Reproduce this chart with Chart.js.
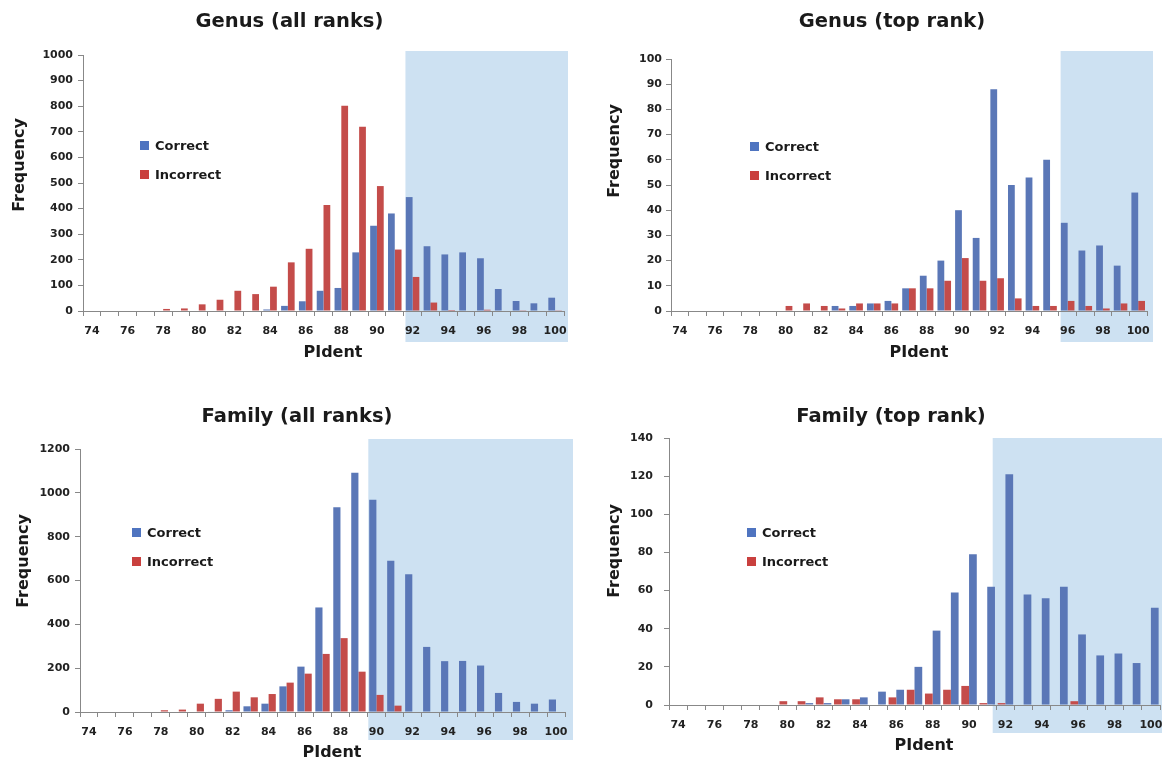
<!DOCTYPE html>
<html lang="en">
<head>
  <meta charset="UTF-8" />
  <title>PIdent histograms</title>
  <script src="https://cdn.jsdelivr.net/npm/chart.js"></script>
  <style>
    body {
      margin: 0;
      background: #fff;
      font-family: 'DejaVu Sans', sans-serif;
      color: #1a1a1a;
    }

    .page {
      position: relative;
      width: 1162px;
      height: 765px;
      overflow: hidden;
    }

    canvas {
      position: absolute;
    }

    .title, .axis-title {
      position: absolute;
      font-weight: bold;
      line-height: 1;
      white-space: nowrap;
      transform: translate(-50%, -50%);
    }

    .title { font-size: 19.5px; }
    .axis-title { font-size: 16px; }
    .axis-title.vertical { transform: translate(-50%, -50%) rotate(-90deg); }

    .legend {
      position: absolute;
      font-weight: bold;
      font-size: 13px;
      line-height: 1;
    }

    .legend .row {
      position: relative;
      height: 28.5px;
      white-space: nowrap;
    }

    .legend .box {
      position: absolute;
      left: 0;
      top: 0;
      width: 9px;
      height: 9px;
    }

    .legend .row span {
      position: absolute;
      left: 15px;
      top: -2px;
    }
  </style>
</head>
<body>
  <div class="page">
    <canvas id="genusAll" width="581" height="382" style="left:0px; top:0px;"></canvas>
    <canvas id="genusTop" width="581" height="382" style="left:581px; top:0px;"></canvas>
    <canvas id="familyAll" width="581" height="383" style="left:0px; top:382px;"></canvas>
    <canvas id="familyTop" width="581" height="383" style="left:581px; top:382px;"></canvas>

    <div class="title" style="left:289.5px; top:21px;">Genus (all ranks)</div>
    <div class="title" style="left:892px; top:21px;">Genus (top rank)</div>
    <div class="title" style="left:297px; top:416px;">Family (all ranks)</div>
    <div class="title" style="left:891px; top:416px;">Family (top rank)</div>

    <div class="axis-title vertical" style="left:19px; top:165px;">Frequency</div>
    <div class="axis-title vertical" style="left:614px; top:151px;">Frequency</div>
    <div class="axis-title vertical" style="left:22.5px; top:561px;">Frequency</div>
    <div class="axis-title vertical" style="left:614px; top:551px;">Frequency</div>

    <div class="axis-title" style="left:333px; top:352px;">PIdent</div>
    <div class="axis-title" style="left:919px; top:352px;">PIdent</div>
    <div class="axis-title" style="left:332px; top:752px;">PIdent</div>
    <div class="axis-title" style="left:924px; top:745px;">PIdent</div>

    <div class="legend" style="left:140px; top:141px;">
      <div class="row"><div class="box" style="background:#4f74c0;"></div><span>Correct</span></div>
      <div class="row"><div class="box" style="background:#c9403e;"></div><span>Incorrect</span></div>
    </div>
    <div class="legend" style="left:750px; top:142px;">
      <div class="row"><div class="box" style="background:#4f74c0;"></div><span>Correct</span></div>
      <div class="row"><div class="box" style="background:#c9403e;"></div><span>Incorrect</span></div>
    </div>
    <div class="legend" style="left:132px; top:528px;">
      <div class="row"><div class="box" style="background:#4f74c0;"></div><span>Correct</span></div>
      <div class="row"><div class="box" style="background:#c9403e;"></div><span>Incorrect</span></div>
    </div>
    <div class="legend" style="left:747px; top:528px;">
      <div class="row"><div class="box" style="background:#4f74c0;"></div><span>Correct</span></div>
      <div class="row"><div class="box" style="background:#c9403e;"></div><span>Incorrect</span></div>
    </div>
  </div>

  <script>
    // PIdent bins (x axis)
    const pident = [74, 75, 76, 77, 78, 79, 80, 81, 82, 83, 84, 85, 86, 87, 88, 89, 90, 91, 92, 93, 94, 95, 96, 97, 98, 99, 100];

    // frequencies, one value per bin above
    const genusAllCorrect   = [0, 0, 0, 0, 0, 0, 0, 0, 0, 0, 6, 20, 38, 79, 90, 229, 333, 381, 445, 253, 221, 229, 206, 86, 39, 30, 52];
    const genusAllIncorrect = [0, 0, 0, 0, 8, 10, 26, 44, 79, 66, 95, 190, 243, 414, 802, 720, 488, 240, 133, 33, 4, 2, 5, 0, 3, 2, 1];

    const genusTopCorrect   = [0, 0, 0, 0, 0, 0, 0, 0, 0, 2, 2, 3, 4, 9, 14, 20, 40, 29, 88, 50, 53, 60, 35, 24, 26, 18, 47];
    const genusTopIncorrect = [0, 0, 0, 0, 0, 0, 2, 3, 2, 1, 3, 3, 3, 9, 9, 12, 21, 12, 13, 5, 2, 2, 4, 2, 1, 3, 4];

    const familyAllCorrect   = [0, 0, 0, 0, 0, 0, 0, 2, 8, 26, 38, 117, 207, 477, 934, 1092, 968, 690, 628, 297, 232, 233, 212, 87, 46, 38, 57];
    const familyAllIncorrect = [0, 0, 0, 0, 8, 11, 38, 60, 93, 67, 82, 134, 175, 265, 337, 184, 78, 29, 0, 0, 0, 0, 0, 0, 0, 0, 0];

    const familyTopCorrect   = [0, 0, 0, 0, 0, 0, 0, 1, 1, 3, 4, 7, 8, 20, 39, 59, 79, 62, 121, 58, 56, 62, 37, 26, 27, 22, 51];
    const familyTopIncorrect = [0, 0, 0, 0, 0, 0, 2, 2, 4, 3, 3, 0, 4, 8, 6, 8, 10, 1, 1, 0, 0, 0, 2, 0, 0, 0, 0];

    // y axis tick ranges
    const yMaxes = [1000, 100, 1200, 140];
    const ySteps = [100, 10, 200, 20];

    // start of the shaded region, in PIdent units
    const bandStarts = [91.6, 95.6, 89.55, 91.3];

    const blue = '#5a77b7';
    const red = '#c44c4a';
    const axisGray = '#888888';
    const tickFont = { family: 'DejaVu Sans', size: 11, weight: 'bold' };

    const shadePlugin = {
      id: 'shade',
      beforeDraw(chart, args, opts) {
        const { ctx, chartArea } = chart;
        const left = chart.scales.x.getPixelForValue(opts.from - pident[0]);
        ctx.save();
        ctx.fillStyle = '#cde1f2';
        ctx.fillRect(left, chartArea.top - opts.above,
          chartArea.right + opts.right - left,
          chartArea.bottom + opts.below - (chartArea.top - opts.above));
        ctx.restore();
      }
    };

    function makeChart(id, cfg) {
      new Chart(document.getElementById(id), {
        type: 'bar',
        data: {
          labels: pident.map(String),
          datasets: cfg.series
        },
        options: {
          responsive: false,
          animation: false,
          devicePixelRatio: 1,
          layout: { padding: { top: cfg.top, right: cfg.right, left: 0, bottom: 0 } },
          datasets: { bar: { categoryPercentage: cfg.catPct, barPercentage: 1 } },
          plugins: {
            legend: { display: false },
            tooltip: { enabled: false },
            title: { display: false },
            shade: { from: cfg.band, above: cfg.above, below: cfg.below, right: cfg.bandRight }
          },
          scales: {
            x: {
              grid: { drawOnChartArea: false, drawTicks: true, tickLength: 5, color: axisGray, offset: true },
              border: { color: axisGray, width: 1 },
              ticks: {
                autoSkip: false,
                maxRotation: 0,
                padding: 9,
                color: '#222',
                font: tickFont,
                callback: (v, i) => (pident[i] % 2 === 0 ? String(pident[i]) : '')
              },
              afterFit(scale) {
                scale.height = cfg.xHeight;
                scale.paddingLeft = 0;
                scale.paddingRight = 0;
              }
            },
            y: {
              min: 0,
              max: cfg.yMax,
              grid: { drawOnChartArea: false, drawTicks: true, tickLength: 5, color: axisGray },
              border: { color: axisGray, width: 1 },
              ticks: {
                stepSize: cfg.yStep,
                padding: cfg.yPad,
                color: '#222',
                font: tickFont,
                callback: (v) => String(v)
              },
              afterFit(scale) {
                scale.width = cfg.yWidth;
                scale.paddingTop = 0;
                scale.paddingBottom = 0;
              }
            }
          }
        },
        plugins: [shadePlugin]
      });
    }

    const correct = (data) => ({ label: 'Correct', data: data, backgroundColor: blue });
    const incorrect = (data) => ({ label: 'Incorrect', data: data, backgroundColor: red });

    makeChart('genusAll', {
      series: [correct(genusAllCorrect), incorrect(genusAllIncorrect)],
      yMax: yMaxes[0], yStep: ySteps[0], band: bandStarts[0],
      top: 55, right: 17, yWidth: 83, xHeight: 71, yPad: 5, catPct: 0.76,
      above: 4, below: 31, bandRight: 4
    });

    makeChart('genusTop', {
      series: [correct(genusTopCorrect), incorrect(genusTopIncorrect)],
      yMax: yMaxes[1], yStep: ySteps[1], band: bandStarts[1],
      top: 59, right: 15, yWidth: 90, xHeight: 71, yPad: 4, catPct: 0.77,
      above: 8, below: 31, bandRight: 6
    });

    makeChart('familyAll', {
      series: [correct(familyAllCorrect), incorrect(familyAllIncorrect)],
      yMax: yMaxes[2], yStep: ySteps[2], band: bandStarts[2],
      top: 67, right: 16, yWidth: 80, xHeight: 53, yPad: 5, catPct: 0.8,
      above: 10, below: 28, bandRight: 8
    });

    // this panel has the incorrect bars on the left of each pair
    makeChart('familyTop', {
      series: [incorrect(familyTopIncorrect), correct(familyTopCorrect)],
      yMax: yMaxes[3], yStep: ySteps[3], band: bandStarts[3],
      top: 56, right: 2, yWidth: 88, xHeight: 60, yPad: 11, catPct: 0.85,
      above: 0, below: 28, bandRight: 10
    });
  </script>
</body>
</html>
